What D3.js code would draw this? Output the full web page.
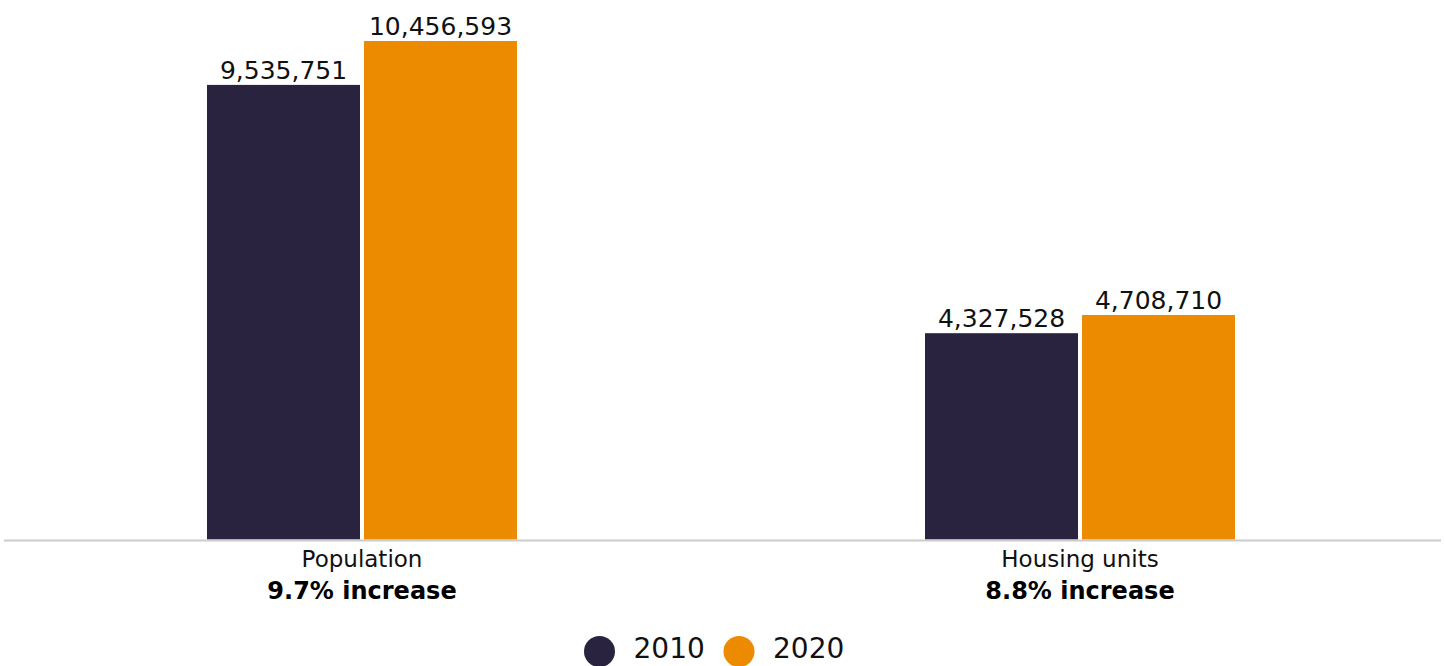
<!DOCTYPE html>
<html>
<head>
<meta charset="utf-8">
<script src="https://cdn.jsdelivr.net/npm/d3@7"></script>
<style>
  html, body { margin: 0; padding: 0; background: #fff; }
  svg { display: block; font-family: "DejaVu Sans", sans-serif; }
</style>
</head>
<body>
<svg id="chart" width="1445" height="666"></svg>
<script>
// Census counts, 2010 vs 2020
const groups = ["Population", "Housing units"];
const changeLabels = ["9.7% increase", "8.8% increase"];
const years = ["2010", "2020"];
const values2010 = [9535751, 4327528];
const values2020 = [10456593, 4708710];

const colors = { "2010": "#2a2340", "2020": "#ec8b00" };

const svg = d3.select("#chart");
const baseY = 539.5;
const topY = 41;

const rows = groups.map((g, i) => ({
  group: g,
  change: changeLabels[i],
  bars: [
    { year: "2010", value: values2010[i] },
    { year: "2020", value: values2020[i] }
  ]
}));

const maxVal = d3.max(rows, r => d3.max(r.bars, b => b.value));

const groupPad = 1 - 310 / 718;
const x0 = d3.scaleBand()
  .domain(groups)
  .range([3, 1439])
  .paddingInner(groupPad)
  .paddingOuter(groupPad / 2);

const x1 = d3.scaleBand()
  .domain(years)
  .range([0, x0.bandwidth()])
  .paddingInner(4 / 157);

const y = d3.scaleLinear()
  .domain([0, maxVal])
  .range([baseY, topY]);

const fmt = d3.format(",");

const g = svg.selectAll("g.group")
  .data(rows)
  .join("g")
  .attr("class", "group")
  .attr("transform", d => `translate(${x0(d.group)},0)`);

g.selectAll("rect")
  .data(d => d.bars)
  .join("rect")
  .attr("x", d => x1(d.year))
  .attr("width", x1.bandwidth())
  .attr("y", d => y(d.value))
  .attr("height", d => baseY - y(d.value))
  .attr("fill", d => colors[d.year]);

g.selectAll("text.value")
  .data(d => d.bars)
  .join("text")
  .attr("class", "value")
  .attr("x", d => x1(d.year) + x1.bandwidth() / 2)
  .attr("y", d => y(d.value) - 6)
  .attr("text-anchor", "middle")
  .attr("font-size", 25)
  .attr("fill", "#111")
  .text(d => fmt(d.value));

// baseline
svg.append("line")
  .attr("x1", 4).attr("x2", 1441)
  .attr("y1", baseY + 1).attr("y2", baseY + 1)
  .attr("stroke", "#cccccc")
  .attr("stroke-width", 2);

// category labels
g.append("text")
  .attr("x", x0.bandwidth() / 2)
  .attr("y", 567)
  .attr("text-anchor", "middle")
  .attr("font-size", 23)
  .attr("fill", "#111")
  .text(d => d.group);

g.append("text")
  .attr("x", x0.bandwidth() / 2)
  .attr("y", 599)
  .attr("text-anchor", "middle")
  .attr("font-size", 24)
  .attr("font-weight", "bold")
  .attr("fill", "#000")
  .text(d => d.change);

// legend
const legend = svg.append("g").attr("transform", "translate(599.5,651.5)");
const item = legend.selectAll("g")
  .data(years)
  .join("g")
  .attr("transform", (d, i) => `translate(${i * 139.5},0)`);
item.append("circle")
  .attr("r", 15.5)
  .attr("fill", d => colors[d]);
item.append("text")
  .attr("x", 34)
  .attr("y", 6.5)
  .attr("font-size", 28)
  .attr("fill", "#111")
  .text(d => d);
</script>
</body>
</html>
